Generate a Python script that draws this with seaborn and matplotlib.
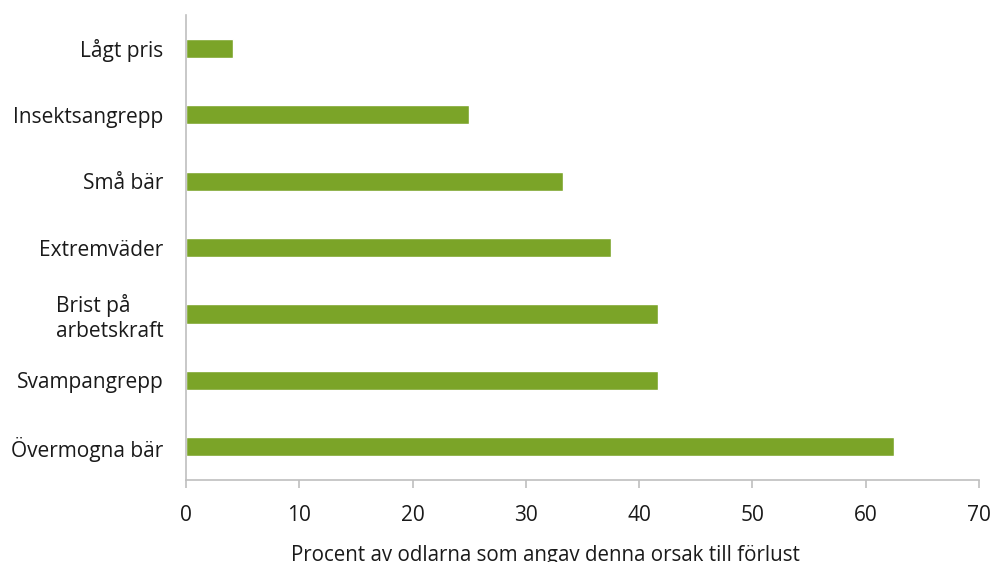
import pandas as pd
import seaborn as sb
import matplotlib.pyplot as plt

# Data
orsaker = ["Lågt pris", "Insektsangrepp", "Små bär", "Extremväder",
           "Brist på\narbetskraft", "Svampangrepp", "Övermogna bär"]
procent = [4.2, 25.0, 33.3, 37.5, 41.7, 41.7, 62.5]

df = pd.DataFrame({"Orsak": orsaker, "Procent": procent})

sb.set_style("white")
plt.rcParams['font.family'] = ['Open Sans', 'DejaVu Sans']

fig = plt.figure(figsize=(9.94, 5.62), dpi=100)
ax = fig.add_axes([0.187, 0.146, 0.798, 0.827])

sb.barplot(data=df, x="Procent", y="Orsak", orient="h", color="#7ba428",
           width=0.29, saturation=1, ax=ax)

ax.set_xlim(0, 70)
ax.set_ylim(6.5, -0.5)
ax.set_xticks(range(0, 71, 10))
ax.set_ylabel("")
ax.set_xlabel("Procent av odlarna som angav denna orsak till förlust",
              fontsize=14.8, color="#1a1a1a")
ax.xaxis.set_label_coords(0.453, -0.14)

sb.despine(ax=ax, top=True, right=True)
for s in ["left", "bottom"]:
    ax.spines[s].set_color("#bfbfbf")
    ax.spines[s].set_linewidth(1.2)

ax.tick_params(axis="x", length=6, width=1.2, color="#bfbfbf", pad=12,
               labelsize=15, labelcolor="#1a1a1a", bottom=True)
ax.tick_params(axis="y", length=0, pad=16, labelsize=15, labelcolor="#1a1a1a")
for lbl in ax.get_yticklabels():
    lbl.set_multialignment("left")

plt.savefig("out.png", dpi=100)
